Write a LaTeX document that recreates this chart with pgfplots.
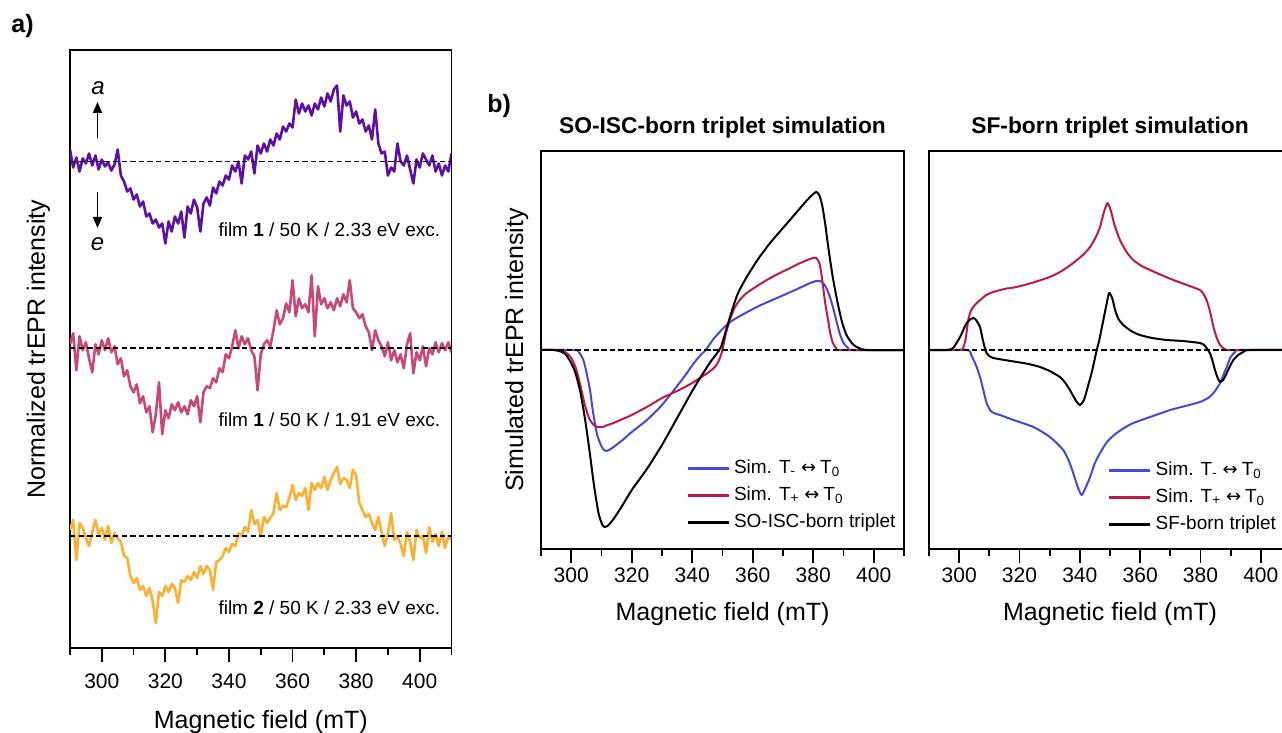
\documentclass[border=0pt]{standalone}
\usepackage{pgfplots}
\pgfplotsset{compat=1.18}
\usepackage{fontspec}
\setmainfont{Liberation Sans}
\newfontfamily\djv{DejaVu Sans}
\usetikzlibrary{arrows.meta}
\definecolor{cpurple}{RGB}{92,16,168}
\definecolor{cpink}{RGB}{201,72,122}
\definecolor{corange}{RGB}{253,176,47}
\definecolor{cblue}{RGB}{70,72,220}
\definecolor{cred}{RGB}{192,24,72}
\newcommand{\ftick}{\fontsize{10.5}{12}\selectfont}
\newcommand{\flab}{\fontsize{12.5}{14}\selectfont}
\newcommand{\fsmall}{\fontsize{9.5}{11}\selectfont}
\newcommand{\lr}{\hspace{2.5pt}{\djv\fontsize{9}{10}\selectfont ↔}\hspace{2pt}}
\pgfplotsset{
  mystyle/.style={
    scale only axis, anchor=south west,
    xmin=290, xmax=410,
    xtick={300,320,...,400},
    extra x ticks={290,310,...,410}, extra x tick labels={},
    extra x tick style={major tick length=3.5pt},
    ytick=\empty, tick align=outside, xtick pos=bottom,
    major tick length=7pt,
    major tick style={black, line width=0.9pt},
    axis line style={line width=0.9pt},
    /pgf/number format/assume math mode=true,
    xticklabel style={font=\ftick, anchor=base},
  },
  basel/.style={black, line width=0.9pt, dash pattern=on 2.7pt off 1.6pt, forget plot},
}
\begin{document}
\begin{tikzpicture}
\useasboundingbox (0,0) rectangle (641pt,-366.5pt);
% ---------- panel a ----------
\begin{axis}[mystyle, at={(35pt,-324pt)}, width=190.75pt, height=299pt,
  ymin=0, ymax=598, xticklabel style={yshift=-13pt},
  every axis plot/.append style={line width=1.3pt, line join=round}]
\addplot[cpurple] table[x index=0, y expr=\thisrowno{1}+486.5] {
290 12
291 -6
292 4
293 -10
294 3
295 -2
296 8
297 -4
298 6
299 -8
300 2
301 -5
302 -1
303 -9
304 -3
305 12
306 -14
307 -20
308 -30
309 -27
310 -38
311 -33
312 -45
313 -40
314 -55
315 -52
316 -62
317 -58
318 -66
319 -62
320 -82
321 -60
322 -70
323 -55
324 -62
325 -50
326 -76
327 -45
328 -52
329 -38
330 -46
331 -70
332 -42
333 -36
334 -44
335 -26
336 -32
337 -20
338 -24
339 -14
340 -18
341 -4
342 -10
343 0
344 -22
345 6
346 2
347 10
348 -12
349 16
350 8
351 18
352 10
353 22
354 16
355 28
356 22
357 35
358 30
359 38
360 34
361 62
362 48
363 58
364 50
365 56
366 46
367 58
368 52
369 64
370 55
371 68
372 60
373 72
374 76
375 30
376 66
377 56
378 60
379 44
380 50
381 38
382 42
383 30
384 36
385 22
386 52
387 18
388 8
389 10
390 -14
391 -6
392 -10
393 18
394 0
395 -4
396 6
397 -8
398 -22
399 2
400 -6
401 8
402 2
403 -4
404 6
405 -10
406 -2
407 -14
408 -4
409 -10
410 8
};
\addplot[cpink] table[x index=0, y expr=\thisrowno{1}+299.7] {
290 4
291 15
292 -22
293 12
294 -2
295 6
296 -10
297 -24
298 4
299 -6
300 8
301 -2
302 10
303 -4
304 2
305 -16
306 -10
307 -28
308 -22
309 -38
310 -44
311 -36
312 -55
313 -48
314 -64
315 -58
316 -84
317 -66
318 -34
319 -86
320 -62
321 -70
322 -56
323 -62
324 -54
325 -64
326 -58
327 -66
328 -52
329 -58
330 -48
331 -74
332 -44
333 -38
334 -40
335 -30
336 -34
337 -20
338 -24
339 -6
340 -10
341 2
342 18
343 0
344 12
345 4
346 10
347 -2
348 -8
349 -42
350 -6
351 4
352 8
353 2
354 18
355 38
356 24
357 30
358 45
359 36
360 68
361 32
362 50
363 40
364 44
365 36
366 73
367 12
368 62
369 44
370 50
371 40
372 46
373 38
374 50
375 42
376 54
377 46
378 68
379 40
380 36
381 30
382 34
383 22
384 16
385 -2
386 18
387 8
388 2
389 -8
390 6
391 -12
392 -2
393 -14
394 -6
395 -20
396 4
397 15
398 -25
399 -4
400 -12
401 2
402 -18
403 0
404 -6
405 6
406 -4
407 5
408 -2
409 6
410 -4
};
\addplot[corange] table[x index=0, y expr=\thisrowno{1}+112] {
290 6
291 16
292 -24
293 13
294 8
295 -2
296 -10
297 4
298 16
299 2
300 8
301 -4
302 10
303 -7
304 3
305 -2
306 -6
307 -20
308 -22
309 -40
310 -47
311 -42
312 -54
313 -50
314 -60
315 -52
316 -65
317 -87
318 -56
319 -60
320 -50
321 -56
322 -48
323 -52
324 -67
325 -44
326 -46
327 -40
328 -44
329 -36
330 -42
331 -30
332 -38
333 -30
334 -34
335 -54
336 -26
337 -24
338 -20
339 -12
340 -16
341 -8
342 -10
343 3
344 0
345 9
346 4
347 26
348 12
349 16
350 0
351 19
352 13
353 18
354 23
355 43
356 26
357 30
358 29
359 38
360 51
361 36
362 43
363 40
364 48
365 26
366 53
367 46
368 53
369 48
370 59
371 46
372 56
373 63
374 69
375 52
376 58
377 56
378 48
379 66
380 61
381 33
382 26
383 19
384 22
385 13
386 6
387 19
388 4
389 -10
390 2
391 23
392 -4
393 0
394 -8
395 -20
396 4
397 -6
398 -24
399 6
400 -2
401 0
402 -17
403 9
404 -6
405 2
406 -10
407 4
408 -12
409 0
410 -4
};
\addplot[basel] coordinates {(290,486.5) (410,486.5)};
\addplot[basel] coordinates {(290,299.7) (410,299.7)};
\addplot[basel] coordinates {(290,112) (410,112)};
\end{axis}
% ---------- panel b1 ----------
\begin{axis}[mystyle, at={(270.5pt,-274.5pt)}, width=181.5pt, height=199pt,
  ymin=-199, ymax=199, xticklabel style={yshift=-9.5pt},
  every axis plot/.append style={line width=1pt, line join=round, smooth, tension=0.4},
  legend style={draw=none, fill=none, at={(0.40,0.226)}, anchor=north west,
    font=\fsmall, row sep=4.5pt, inner sep=0pt,
    nodes={inner ysep=0pt, inner xsep=2pt, text height=7pt, text depth=2pt}},
  legend cell align=left,
  legend image code/.code={\draw[#1, line width=1.2pt] (0pt,0pt) -- (20.5pt,0pt);}]
\addplot[cblue] coordinates {(290,0) (301,0) (302.5,-2) (304,-10) (305,-22) (306.2,-40) (307,-58) (307.8,-73) (308.6,-85) (309.5,-93) (310.5,-99) (311.5,-101) (312.5,-100) (314,-97) (317,-90) (320,-82) (325,-70) (330,-55) (335,-36) (338,-24) (340.3,-14) (342.5,-6) (344.7,1) (347,11) (350,21) (353,29) (357,36) (362,44) (368,52) (374,60) (379,67) (381,69) (382.3,69) (383.5,66) (384.5,61) (385.5,53) (386.5,43) (387.5,31) (388.7,17) (390,7) (391.5,2) (393,0) (410,0)};
\addlegendentry{Sim. T\textsubscript{-}\lr T\textsubscript{0}}
\addplot[cred] coordinates {(290,0) (296,0) (298,-2) (300,-8) (301.5,-18) (303,-35) (304.5,-55) (306,-69) (307.5,-75) (308.8,-77) (310.5,-77) (312,-75) (314,-73) (317,-69) (320,-65) (325,-57) (330,-48) (335,-41) (340,-33) (343,-27) (346,-21) (348,-15) (349,-9) (350,0) (351,15) (352.4,30) (354,42) (355.7,50) (358,57) (363,67) (367,74) (371,80) (375,86) (378,90) (380,92) (381,92) (382,87) (382.7,76) (383.3,62) (384,46) (384.9,30) (385.6,17) (386.5,7) (387.5,2) (389,0) (410,0)};
\addlegendentry{Sim. T\textsubscript{+}\lr T\textsubscript{0}}
\addplot[black] coordinates {(290,0) (294,0) (296,-1) (298,-4) (300,-13) (301.5,-24) (303,-42) (304.5,-68) (306,-100) (307.5,-135) (309,-163) (310.3,-175) (311.1,-177) (312,-176) (314,-169) (317,-155) (320,-140) (325,-119) (330,-95) (335,-68) (340,-41) (343,-26) (346,-12) (348,-4) (349.5,3) (351,18) (353,38) (355,56) (358,73) (362,92) (366,108) (370,122) (374,136) (378,150) (380,156) (381,158) (382,155) (383,144) (384,125) (385,102) (386.5,72) (388,48) (389.5,28) (391,15) (393,6) (395,2) (398,0) (410,0)};
\addlegendentry{SO-ISC-born triplet}
\addplot[basel, smooth=false] coordinates {(290,0) (410,0)};
\end{axis}
% ---------- panel b2 ----------
\begin{axis}[mystyle, at={(464.5pt,-274.5pt)}, width=181pt, height=199pt,
  ymin=-199, ymax=199, xticklabel style={yshift=-9.5pt},
  every axis plot/.append style={line width=1pt, line join=round, smooth, tension=0.4},
  legend style={draw=none, fill=none, at={(0.494,0.221)}, anchor=north west,
    font=\fsmall, row sep=4.5pt, inner sep=0pt,
    nodes={inner ysep=0pt, inner xsep=2pt, text height=7pt, text depth=2pt}},
  legend cell align=left,
  legend image code/.code={\draw[#1, line width=1.2pt] (0pt,0pt) -- (20.5pt,0pt);}]
\addplot[cblue] coordinates {(290,0) (302.5,0) (304,-5) (305.8,-17) (307,-28) (308,-40) (309,-52) (310.2,-60) (311.5,-63) (313.5,-65) (318,-70) (324.6,-77) (330.1,-87) (334.5,-100) (336.5,-112) (337.8,-123) (339.3,-137) (340.6,-145) (342,-137) (343.4,-127) (345,-113) (346.7,-103) (349,-92) (352.2,-83) (357,-74) (363.3,-67) (370,-60) (375,-56) (379.8,-52) (382.5,-48) (384.3,-43) (385.5,-38) (386.5,-33) (387.7,-24) (388.7,-17) (390,-7) (391.5,-2) (393,0) (410,0)};
\addlegendentry{Sim. T\textsubscript{-}\lr T\textsubscript{0}}
\addplot[cred] coordinates {(290,0) (300,0) (301.3,2) (302.2,12) (303,30) (304,40) (305.5,46) (307,50) (309,55) (311.3,58) (315,61) (319,63) (324,67) (330,73) (334,79) (337.8,87) (341,95) (343.4,103) (345.3,113) (346.7,123) (348,138) (349.2,147) (350.4,138) (351.5,125) (353.3,110) (355.5,98) (357.7,90) (360.5,84) (363.3,80) (367,75) (371,70) (375.5,65) (379.8,60) (381,56) (382,50) (383.2,38) (384.3,23) (385.4,12) (386.5,5) (388,1) (390,0) (410,0)};
\addlegendentry{Sim. T\textsubscript{+}\lr T\textsubscript{0}}
\addplot[black] coordinates {(290,0) (296,0) (298,2) (300.3,13) (301.5,21) (302.5,27) (303.8,31) (304.7,32) (305.6,30) (306.9,23) (307.7,12) (308.5,2) (309.1,-3) (310,-6) (311.3,-8) (315,-10) (319.1,-12) (323,-14) (326.8,-17) (330,-21) (333.4,-27) (335.2,-33) (336.7,-40) (338,-47) (339,-52) (340,-55) (341,-52) (341.7,-47) (342.8,-35) (343.9,-23) (344.8,-11) (345.6,0) (346.3,8) (347,18) (347.8,30) (348.8,45) (349.7,57) (350.7,52) (351.7,40) (352.8,31) (354.4,25) (357,19) (359.9,15) (364,12) (368.8,10) (374,9) (379.8,7) (381.2,5) (382,2) (383.1,-3) (384,-11) (384.8,-20) (385.7,-28) (386.5,-32) (387.5,-30) (388.7,-23) (389.8,-16) (390.9,-10) (392.5,-5) (394.2,-2) (396,0) (410,0)};
\addlegendentry{SF-born triplet}
\addplot[basel, smooth=false] coordinates {(290,0) (410,0)};
\end{axis}
% ---------- labels ----------
\node[font=\flab\bfseries, anchor=base west, inner sep=0pt] at (5.5pt,-16.5pt) {a)};
\node[font=\flab\bfseries, anchor=base west, inner sep=0pt] at (243.5pt,-56.5pt) {b)};
\node[font=\fontsize{11.4}{13}\selectfont\bfseries, anchor=base, inner sep=0pt] at (361.25pt,-67pt) {SO-ISC-born triplet simulation};
\node[font=\fontsize{11.4}{13}\selectfont\bfseries, anchor=base, inner sep=0pt] at (555pt,-67pt) {SF-born triplet simulation};
\node[font=\flab, rotate=90, anchor=base, inner sep=0pt] at (22.5pt,-174.5pt) {Normalized trEPR intensity};
\node[font=\flab, rotate=90, anchor=base, inner sep=0pt] at (261.5pt,-175pt) {Simulated trEPR intensity};
\node[font=\flab, anchor=base, inner sep=0pt] at (130.4pt,-364pt) {Magnetic field (mT)};
\node[font=\flab, anchor=base, inner sep=0pt] at (361.25pt,-310pt) {Magnetic field (mT)};
\node[font=\flab, anchor=base, inner sep=0pt] at (555pt,-310pt) {Magnetic field (mT)};
\node[font=\fsmall, anchor=base east, inner sep=0pt] at (220.35pt,-118.5pt) {film \textbf{1} / 50 K / 2.33 eV exc.};
\node[font=\fsmall, anchor=base east, inner sep=0pt] at (220.35pt,-213.35pt) {film \textbf{1} / 50 K / 1.91 eV exc.};
\node[font=\fsmall, anchor=base east, inner sep=0pt] at (220.35pt,-307pt) {film \textbf{2} / 50 K / 2.33 eV exc.};
\draw[line width=0.9pt, -{Triangle[length=5.5pt,width=4.5pt]}] (48.75pt,-69pt) -- (48.75pt,-51pt);
\draw[line width=0.9pt, -{Triangle[length=5.5pt,width=4.5pt]}] (48.75pt,-96pt) -- (48.75pt,-114pt);
\node[font=\fontsize{12}{14}\selectfont\itshape, anchor=base, inner sep=0pt] at (49pt,-47.5pt) {a};
\node[font=\fontsize{12}{14}\selectfont\itshape, anchor=base, inner sep=0pt] at (48.75pt,-125.5pt) {e};
\end{tikzpicture}
\end{document}
